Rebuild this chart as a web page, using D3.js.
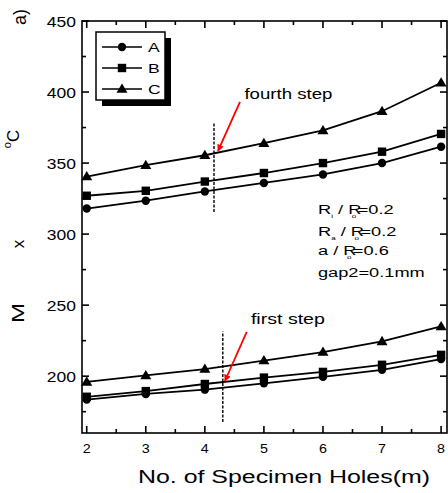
<!DOCTYPE html>
<html>
<head>
<meta charset="utf-8">
<script src="https://cdn.jsdelivr.net/npm/d3@7"></script>
<style>
  html, body { margin: 0; padding: 0; background: #fff; }
  svg { display: block; font-family: "Liberation Sans", Arial, sans-serif; }
</style>
</head>
<body>
<svg id="chart" width="448" height="493"></svg>
<script>
// ---- data ----
const holes = [2, 3, 4, 5, 6, 7, 8];
const upperA = [318, 323.5, 330, 336, 342, 350, 361.5];
const upperB = [327, 330.5, 337, 343, 350, 358, 370.5];
const upperC = [340.5, 348.5, 355.5, 364, 373, 386.5, 406.5];
const lowerA = [183.5, 187.5, 190.5, 195, 199.5, 204.5, 212];
const lowerB = [185.5, 189.5, 194.5, 199, 203, 208, 215];
const lowerC = [196, 200.5, 205, 211, 217, 224.5, 235];
const seriesNames = ["A", "B", "C"];
const xTicks = [2, 3, 4, 5, 6, 7, 8];
const yTicks = [200, 250, 300, 350, 400, 450];
const annotationLines = ["gap2=0.1mm"];

// ---- layout ----
const svg = d3.select("#chart");
const L = 82, R = 447, T = 21, B = 433;
const x = d3.scaleLinear().domain([1.92, 8.1]).range([L, R]);
const y = d3.scaleLinear().domain([160, 450]).range([B, T]);
const SX = 1.35; // horizontal text stretch of the original

function stext(g, px, py, str, size, anchor, sx) {
  const t = g.append("g").attr("transform", `translate(${px},${py}) scale(${sx || SX},1)`)
    .append("text").attr("font-size", size).attr("fill", "#000")
    .attr("text-anchor", anchor || "start").text(str);
  return t;
}

// axes with inward ticks
const major = 7, minor = 4;
const gAx = svg.append("g").attr("stroke", "#000").attr("stroke-width", 1.6);
gAx.append("rect").attr("x", L).attr("y", T).attr("width", R - L).attr("height", B - T)
  .attr("fill", "none");
const xMinor = d3.range(2.5, 8, 1);
const yMinor = d3.range(175, 450, 50);
xTicks.forEach(v => {
  gAx.append("line").attr("x1", x(v)).attr("x2", x(v)).attr("y1", B).attr("y2", B - major);
  gAx.append("line").attr("x1", x(v)).attr("x2", x(v)).attr("y1", T).attr("y2", T + major);
});
xMinor.forEach(v => {
  gAx.append("line").attr("x1", x(v)).attr("x2", x(v)).attr("y1", B).attr("y2", B - minor);
  gAx.append("line").attr("x1", x(v)).attr("x2", x(v)).attr("y1", T).attr("y2", T + minor);
});
yTicks.forEach(v => {
  gAx.append("line").attr("y1", y(v)).attr("y2", y(v)).attr("x1", L).attr("x2", L + major);
  gAx.append("line").attr("y1", y(v)).attr("y2", y(v)).attr("x1", R).attr("x2", R - major);
});
yMinor.forEach(v => {
  gAx.append("line").attr("y1", y(v)).attr("y2", y(v)).attr("x1", L).attr("x2", L + minor);
  gAx.append("line").attr("y1", y(v)).attr("y2", y(v)).attr("x1", R).attr("x2", R - minor);
});

// tick labels
const gLab = svg.append("g");
xTicks.forEach(v => stext(gLab, x(v), 453, String(v), 13, "middle", 1.1));
yTicks.forEach(v => stext(gLab, 76, y(v) + 6, String(v), 14, "end", 1.25));

// axis titles
svg.append("text").attr("x", (138 + 430) / 2).attr("y", 483).attr("font-size", 18)
  .attr("text-anchor", "middle").attr("textLength", 292).attr("lengthAdjust", "spacingAndGlyphs")
  .text("No. of Specimen Holes(m)");
function vtext(cx, cy, size, len) {
  const t = svg.append("text").attr("transform", `translate(${cx},${cy}) rotate(-90)`)
    .attr("font-size", size).attr("text-anchor", "middle").attr("dy", "0.35em");
  if (len) t.attr("textLength", len).attr("lengthAdjust", "spacingAndGlyphs");
  return t;
}
vtext(18, 313, 17, 20).text("M");
vtext(18, 244, 17).text("x");
const tc = vtext(18, 139, 17);
tc.append("tspan").attr("font-size", 11).attr("dy", "-0.6em").text("o");
tc.append("tspan").attr("dy", "0.45em").text("C");
vtext(20, 17, 18).text("a)");

// series
const line = d3.line().x((d, i) => x(holes[i])).y(d => y(d));
const sets = [
  { name: "A", vals: upperA }, { name: "B", vals: upperB }, { name: "C", vals: upperC },
  { name: "A", vals: lowerA }, { name: "B", vals: lowerB }, { name: "C", vals: lowerC }
];
function marker(g, name, cx, cy) {
  if (name === "A") g.append("circle").attr("cx", cx).attr("cy", cy).attr("r", 4.2).attr("fill", "#000");
  else if (name === "B") g.append("rect").attr("x", cx - 4.2).attr("y", cy - 4.2).attr("width", 8.4).attr("height", 8.4).attr("fill", "#000");
  else g.append("path").attr("d", `M${cx},${cy - 5.5} L${cx + 5.5},${cy + 3.8} L${cx - 5.5},${cy + 3.8} Z`).attr("fill", "#000");
}
const gS = svg.append("g");
sets.forEach(s => {
  gS.append("path").attr("d", line(s.vals)).attr("fill", "none").attr("stroke", "#000").attr("stroke-width", 1.8);
  s.vals.forEach((v, i) => marker(gS, s.name, x(holes[i]), y(v)));
});

// dashed step lines
const steps = [
  { x: 4.155, y0: 315.6, y1: 378.9 },
  { x: 4.304, y0: 167.7, y1: 231.4 }
];
steps.forEach(s => svg.append("line").attr("x1", x(s.x)).attr("x2", x(s.x))
  .attr("y1", y(s.y0)).attr("y2", y(s.y1)).attr("stroke", "#000")
  .attr("stroke-width", 1.4).attr("stroke-dasharray", "3,1.5"));

// red arrows
svg.append("defs").append("marker").attr("id", "ah").attr("viewBox", "0 0 10 10")
  .attr("refX", 9).attr("refY", 5).attr("markerWidth", 7).attr("markerHeight", 7)
  .attr("markerUnits", "userSpaceOnUse").attr("orient", "auto")
  .append("path").attr("d", "M0,0 L10,5 L0,10 Z").attr("fill", "#ff0000");
const arrows = [
  { x0: 4.595, y0: 393, x1: 4.223, y1: 358.5, label: "fourth step", lx: 4.67, ly: 395, len: 88 },
  { x0: 4.709, y0: 231.1, x1: 4.34, y1: 196.6, label: "first step", lx: 4.78, ly: 236.7, len: 74 }
];
arrows.forEach(a => {
  svg.append("line").attr("x1", x(a.x0)).attr("y1", y(a.y0)).attr("x2", x(a.x1)).attr("y2", y(a.y1))
    .attr("stroke", "#ff0000").attr("stroke-width", 1.8).attr("marker-end", "url(#ah)");
  svg.append("text").attr("x", x(a.lx)).attr("y", y(a.ly)).attr("font-size", 14)
    .attr("textLength", a.len).attr("lengthAdjust", "spacingAndGlyphs").text(a.label);
});

// legend
const lg = svg.append("g");
lg.append("rect").attr("x", 102).attr("y", 38).attr("width", 69).attr("height", 68).attr("fill", "#000");
lg.append("rect").attr("x", 96).attr("y", 32).attr("width", 69).attr("height", 68)
  .attr("fill", "#fff").attr("stroke", "#000").attr("stroke-width", 1.5);
seriesNames.forEach((n, i) => {
  const ly = 47 + i * 21;
  lg.append("line").attr("x1", 102).attr("x2", 142).attr("y1", ly).attr("y2", ly)
    .attr("stroke", "#000").attr("stroke-width", 1.7);
  marker(lg, n, 122, ly);
  stext(lg, 148, ly + 5, n, 13, "start", 1.35);
});

// parameter annotation
const ga = svg.append("g");
function ratioLine(py, a, aSub, bSub, val) {
  const g = ga.append("g").attr("transform", `translate(318,${py}) scale(${SX},1)`);
  const t = g.append("text").attr("font-size", 13.5);
  t.append("tspan").text(a);
  if (aSub) t.append("tspan").attr("font-size", 6).attr("dy", 4).text(aSub);
  t.append("tspan").attr("dy", aSub ? -4 : 0).text(" / R");
  t.append("tspan").attr("font-size", 6).attr("dy", 4).attr("dx", -7).text(bSub);
  t.append("tspan").attr("dy", -4).attr("dx", 1).text("=" + val);
}
ratioLine(214, "R", "i", "o", "0.2");
ratioLine(235.5, "R", "a", "o", "0.2");
ratioLine(255, "a", "", "o", "0.6");
annotationLines.forEach((s, i) => stext(ga, 318, 277 + i * 21, s, 13.5, "start", SX));
</script>
</body>
</html>
